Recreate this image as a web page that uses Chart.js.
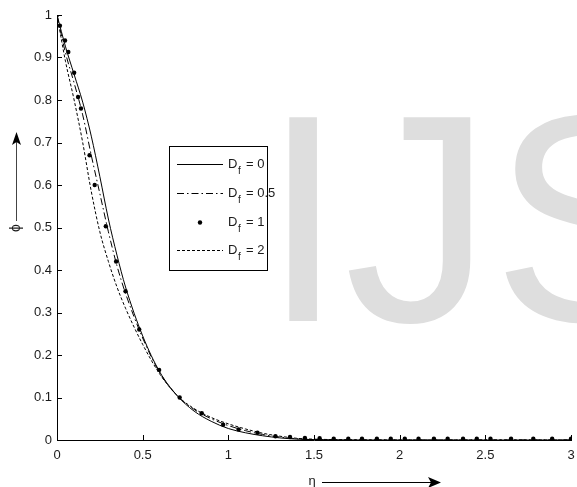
<!DOCTYPE html>
<html>
<head>
<meta charset="utf-8">
<script src="https://cdn.jsdelivr.net/npm/chart.js@4.4.1/dist/chart.umd.min.js"></script>
<style>
  html, body { margin: 0; padding: 0; background: #fff; }
  #wrap { width: 577px; height: 487px; }
</style>
</head>
<body>
<div id="wrap"><canvas id="phi-chart" width="577" height="487"></canvas></div>
<script>
'use strict';

/* ── Concentration profiles ϕ(η) for several Dufour numbers ─── */
const ETA = [0, 0.05, 0.1, 0.15, 0.2, 0.25, 0.3, 0.35, 0.4, 0.5, 0.6, 0.7, 0.8, 0.9,
             1.0, 1.1, 1.2, 1.3, 1.4, 1.5, 2.0, 2.5, 3.0];

const PHI_DF0  = [1, 0.925, 0.86, 0.795, 0.715, 0.62, 0.52, 0.435, 0.36, 0.245, 0.16,
                  0.105, 0.068, 0.044, 0.027, 0.017, 0.010, 0.005, 0.002, 0.001, 0, 0, 0];
const PHI_DF05 = [1, 0.91, 0.84, 0.765, 0.67, 0.58, 0.49, 0.41, 0.345, 0.24, 0.158,
                  0.105, 0.072, 0.050, 0.034, 0.022, 0.013, 0.007, 0.003, 0.001, 0, 0, 0];
const PHI_DF2  = [1, 0.89, 0.80, 0.70, 0.585, 0.49, 0.42, 0.36, 0.31, 0.225, 0.155,
                  0.105, 0.074, 0.053, 0.038, 0.026, 0.016, 0.009, 0.004, 0.002, 0, 0, 0];

// Df = 1 is plotted as markers on the solver mesh
const ETA_DF1 = [0, 0.017, 0.047, 0.066, 0.1, 0.123, 0.14, 0.19, 0.22, 0.285, 0.345, 0.40,
                 0.48, 0.596, 0.716, 0.845, 0.97, 1.06, 1.17, 1.275, 1.36, 1.447, 1.533,
                 1.615, 1.70, 1.78, 1.867, 1.948, 2.03, 2.11, 2.20, 2.28, 2.37, 2.45, 2.53,
                 2.65, 2.78, 2.89, 3.0];
const PHI_DF1 = [1, 0.975, 0.94, 0.913, 0.864, 0.807, 0.78, 0.67, 0.60, 0.503, 0.42, 0.35,
                 0.26, 0.165, 0.10, 0.063, 0.036, 0.025, 0.017, 0.009, 0.007, 0.005, 0.004,
                 0.003, 0.003, 0.003, 0.003, 0.003, 0.003, 0.003, 0.003, 0.003, 0.003, 0.003,
                 0.003, 0.003, 0.003, 0.003, 0.003];

const SERIES_LABELS = ['0', '0.5', '1', '2'];

const FONT = '"Liberation Sans", Arial, sans-serif';
const INK  = '#1a1a1a';

const pairs = (xs, ys) => xs.map((x, i) => ({ x, y: ys[i] }));
const tickText = v => String(Number(v.toFixed(1)));

/* ── Background watermark ─────────────────────────────────── */
const watermark = {
  id: 'watermark',
  beforeDatasetsDraw(ch) {
    const c = ch.ctx;
    c.save();
    c.font = '296px ' + FONT;
    c.fillStyle = '#dedede';
    c.textBaseline = 'alphabetic';
    c.textAlign = 'left';
    c.fillText('IJS', 262, 321);
    c.restore();
  }
};

/* ── Inward tick marks, axis titles with arrows, legend box ── */
const decorations = {
  id: 'decorations',
  afterDraw(ch) {
    const c = ch.ctx;
    const xs = ch.scales.x, ys = ch.scales.y;
    const { left, bottom } = ch.chartArea;

    c.save();
    c.strokeStyle = '#000';
    c.lineWidth = 1;
    c.beginPath();
    xs.ticks.forEach(t => {
      const px = Math.round(xs.getPixelForValue(t.value)) + 0.5;
      c.moveTo(px, bottom);
      c.lineTo(px, bottom - 5);
    });
    ys.ticks.forEach(t => {
      const py = Math.round(ys.getPixelForValue(t.value)) + 0.5;
      c.moveTo(left, py);
      c.lineTo(left + 5, py);
    });
    c.stroke();

    // η ──────►
    c.font = '13px ' + FONT;
    c.fillStyle = INK;
    c.textAlign = 'center';
    c.textBaseline = 'middle';
    c.fillText('η', 312, 481);
    c.beginPath();
    c.moveTo(322, 482.5);
    c.lineTo(432, 482.5);
    c.stroke();
    c.beginPath();
    c.moveTo(441, 482.5);
    c.lineTo(428, 477);
    c.lineTo(431, 482.5);
    c.lineTo(428, 488);
    c.closePath();
    c.fillStyle = '#000';
    c.fill();

    // ϕ rotated, arrow pointing up
    c.save();
    c.translate(16, 228);
    c.rotate(-Math.PI / 2);
    c.fillStyle = INK;
    c.font = '14px ' + FONT;
    c.fillText('ϕ', 0, 0);
    c.restore();
    c.strokeStyle = '#444';
    c.beginPath();
    c.moveTo(16.5, 221);
    c.lineTo(16.5, 140);
    c.stroke();
    c.beginPath();
    c.moveTo(16.5, 132);
    c.lineTo(12, 145);
    c.lineTo(16.5, 142);
    c.lineTo(21, 145);
    c.closePath();
    c.fillStyle = '#000';
    c.fill();

    // legend
    const bx = 169.5, by = 146.5, bw = 98, bh = 124;
    c.fillStyle = '#fff';
    c.fillRect(bx, by, bw, bh);
    c.strokeStyle = '#000';
    c.lineWidth = 1;
    c.strokeRect(bx, by, bw, bh);

    const rows = [164, 193, 222, 250];
    ch.data.datasets.forEach((ds, i) => {
      const y = rows[i] + 0.5;
      c.save();
      c.strokeStyle = '#000';
      c.setLineDash(ds.borderDash || []);
      if (ds.showLine === false) {
        c.beginPath();
        c.arc(200, y, 2.2, 0, Math.PI * 2);
        c.fillStyle = '#000';
        c.fill();
      } else {
        c.beginPath();
        c.moveTo(177, y);
        c.lineTo(223, y);
        c.stroke();
      }
      c.restore();

      c.fillStyle = INK;
      c.textAlign = 'left';
      c.textBaseline = 'middle';
      c.font = '13px ' + FONT;
      c.fillText('D', 228, rows[i]);
      c.font = '10px ' + FONT;
      c.fillText('f', 238, rows[i] + 7);
      c.font = '13px ' + FONT;
      c.fillText('= ' + SERIES_LABELS[i], 246, rows[i]);
    });
    c.restore();
  }
};

const lineStyle = {
  borderColor: '#000',
  borderWidth: 1,
  pointRadius: 0,
  fill: false,
  cubicInterpolationMode: 'monotone',
};

new Chart(document.getElementById('phi-chart').getContext('2d'), {
  type: 'line',
  data: {
    datasets: [
      { ...lineStyle, label: 'Df = 0',   data: pairs(ETA, PHI_DF0) },
      { ...lineStyle, label: 'Df = 0.5', data: pairs(ETA, PHI_DF05), borderDash: [7, 3, 1.5, 3] },
      {
        label: 'Df = 1',
        data: pairs(ETA_DF1, PHI_DF1),
        showLine: false,
        pointRadius: 2.2,
        pointBackgroundColor: '#000',
        pointBorderWidth: 0,
      },
      { ...lineStyle, label: 'Df = 2',   data: pairs(ETA, PHI_DF2), borderDash: [3, 2] },
    ]
  },
  plugins: [watermark, decorations],
  options: {
    responsive: false,
    animation: false,
    layout: { padding: { top: 15, right: 6, left: 0, bottom: 0 } },
    plugins: { legend: { display: false }, tooltip: { enabled: false } },
    scales: {
      x: {
        type: 'linear',
        min: 0, max: 3,
        ticks: { stepSize: 0.5, color: INK, padding: 8, font: { size: 13, family: FONT },
                 callback: tickText },
        grid: { display: false, drawTicks: false },
        border: { display: true, color: '#000', width: 1 },
        afterFit: s => { s.height = 47; s.paddingLeft = 0; s.paddingRight = 0; },
      },
      y: {
        min: 0, max: 1,
        ticks: { stepSize: 0.1, color: INK, padding: 5, font: { size: 13, family: FONT },
                 callback: tickText },
        grid: { display: false, drawTicks: false },
        border: { display: true, color: '#000', width: 1 },
        afterFit: s => { s.width = 57; s.paddingTop = 0; s.paddingBottom = 0; },
      }
    }
  }
});
</script>
</body>
</html>
